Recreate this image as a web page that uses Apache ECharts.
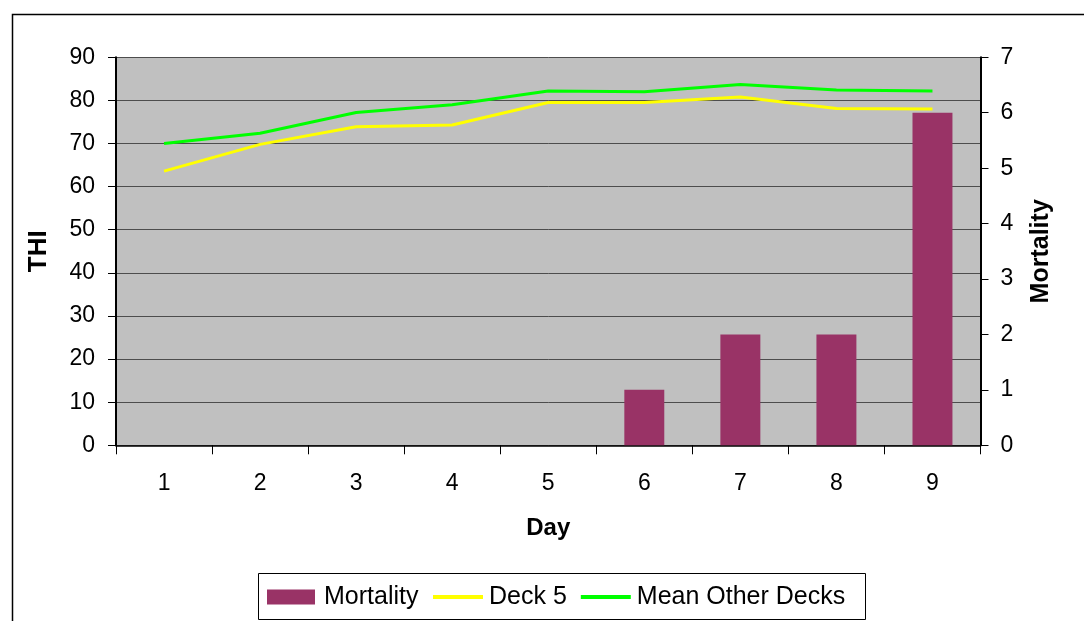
<!DOCTYPE html>
<html><head><meta charset="utf-8">
<script src="https://cdn.jsdelivr.net/npm/echarts@6/dist/echarts.min.js"></script>
<style>html,body{margin:0;padding:0;background:#fff;}#c{width:1084px;height:621px;}</style>
</head><body><div id="c"></div>
<script>
const days = ['1','2','3','4','5','6','7','8','9'];
const mortality = [0,0,0,0,0,1,2,2,6];
const deck5 = [63.6,69.8,73.9,74.3,79.5,79.5,80.8,78.1,78.0];
const meanOther = [70.0,72.4,77.2,79.0,82.2,82.0,83.7,82.4,82.2];
const leftTicks = {min:0,max:90,interval:10};
const rightTicks = {min:0,max:7,interval:1};

const chart = echarts.init(document.getElementById('c'));
const font = 'Liberation Sans, Arial, sans-serif';
const legendText = {fontSize:25,color:'#000',fontFamily:font,lineHeight:30};
chart.setOption({
  animation:false,
  textStyle:{fontFamily:font},
  graphic:[
    {type:'rect',left:10,top:12,shape:{x:0,y:0,width:1100,height:640},style:{fill:null,stroke:'#000',lineWidth:1.5},z:-10,silent:true},
    {type:'rect',left:258,top:573,shape:{x:0,y:0,width:607,height:46},style:{fill:'#fff',stroke:'#000',lineWidth:1},z:-5,silent:true}
  ],
  grid:{left:116,right:103.5,top:57.3,bottom:175.7,show:true,backgroundColor:'#C0C0C0',borderWidth:0},
  legend:[
    {left:267,top:582,padding:0,itemGap:12,itemWidth:48,itemHeight:15,textStyle:Object.assign({padding:[0,0,0,4]},legendText),
     data:[{name:'Mortality',icon:'rect'}]},
    {left:433,top:582,padding:0,itemGap:14,itemWidth:50,itemHeight:4,textStyle:Object.assign({padding:[0,0,0,1]},legendText),
     data:[{name:'Deck 5',icon:'rect'},{name:'Mean Other Decks',icon:'rect'}]}
  ],
  xAxis:{type:'category',data:days,boundaryGap:true,name:'Day',nameLocation:'middle',nameGap:71,
    nameTextStyle:{fontSize:24,fontWeight:'bold',color:'#000'},
    axisLine:{lineStyle:{color:'#000',width:1.5}},axisTick:{show:true,length:9,lineStyle:{color:'#000'}},
    axisLabel:{fontSize:23,color:'#000',margin:27}},
  yAxis:[
    {type:'value',min:leftTicks.min,max:leftTicks.max,interval:leftTicks.interval,name:'THI',nameLocation:'middle',nameGap:64,
     nameTextStyle:{fontSize:26,fontWeight:'bold',color:'#000'},
     axisLine:{show:true,lineStyle:{color:'#000',width:2}},axisTick:{show:true,length:8,lineStyle:{color:'#000'}},
     axisLabel:{fontSize:23,color:'#000',margin:21},splitLine:{show:true,lineStyle:{color:'#4d4d4d',width:1}}},
    {type:'value',min:rightTicks.min,max:rightTicks.max,interval:rightTicks.interval,name:'Mortality',nameLocation:'middle',nameGap:48,
     nameTextStyle:{fontSize:25,fontWeight:'bold',color:'#000'},
     axisLine:{show:true,lineStyle:{color:'#000',width:2}},axisTick:{show:true,length:8,lineStyle:{color:'#000'}},
     axisLabel:{fontSize:23,color:'#000',margin:20},splitLine:{show:false}}
  ],
  series:[
    {name:'Mortality',type:'bar',yAxisIndex:1,data:mortality,barWidth:'41.6%',itemStyle:{color:'#993366'}},
    {name:'Deck 5',type:'line',yAxisIndex:0,data:deck5,showSymbol:false,symbol:'none',lineStyle:{color:'#FFFF00',width:3},itemStyle:{color:'#FFFF00'}},
    {name:'Mean Other Decks',type:'line',yAxisIndex:0,data:meanOther,showSymbol:false,symbol:'none',lineStyle:{color:'#00FF00',width:3},itemStyle:{color:'#00FF00'}}
  ]
});
</script></body></html>
